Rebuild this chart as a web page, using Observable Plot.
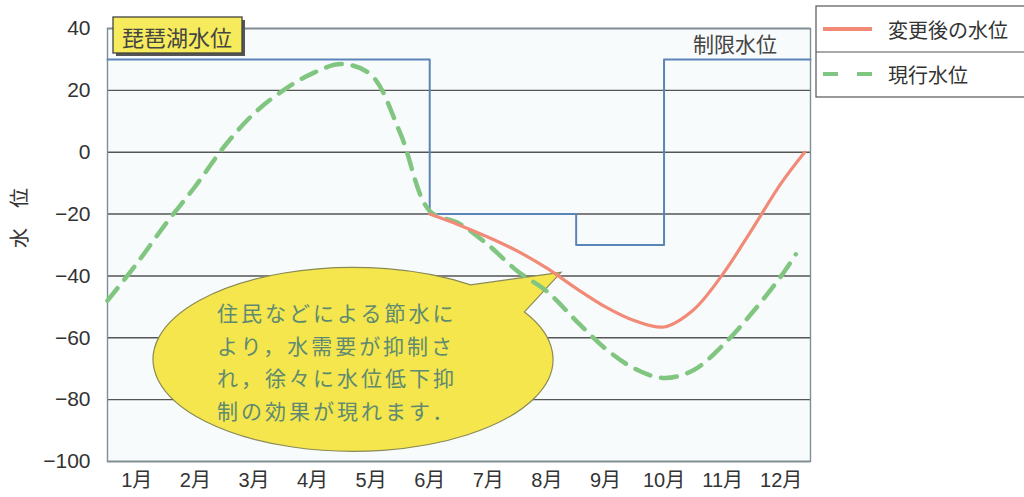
<!DOCTYPE html>
<html>
<head>
<meta charset="utf-8">
<script src="https://cdn.jsdelivr.net/npm/d3@7"></script>
<script src="https://cdn.jsdelivr.net/npm/@observablehq/plot@0.6"></script>
<style>
  body { margin: 0; background: #fff; }
</style>
</head>
<body>
<div id="chart"></div>
<script>
// Month labels along the x axis (positions are in months: 0 = 1 Jan, 12 = 31 Dec)
const monthLabels = ["1月","2月","3月","4月","5月","6月","7月","8月","9月","10月","11月","12月"];
const yTicks = [40, 20, 0, -20, -40, -60, -80, -100];

// 現行水位 (current operation), cm
const currentT     = [0, 0.5, 1, 1.5, 2, 2.5, 3, 3.5, 4, 4.5, 5, 5.5, 6, 6.5, 7, 7.5, 8, 8.5, 9, 9.5, 10, 10.5, 11, 11.5, 11.75];
const currentLevel = [-48, -36, -23, -11, 2, 12.5, 20, 25.5, 28.5, 25, 6, -19, -23, -30, -38.5, -45, -54.5, -63.5, -70, -73, -70.5, -62.5, -52, -40, -33];

// 変更後の水位 (revised operation), cm
const revisedT     = [5.5, 6, 6.5, 7, 7.5, 8, 8.5, 9, 9.5, 10, 10.5, 11, 11.5, 11.9];
const revisedLevel = [-20, -23.5, -27.5, -32, -37.5, -44, -50, -54.5, -56.5, -51, -39.5, -25, -10, 0];

// 制限水位 (limit level), step changes
const limitT     = [0, 5.5, 8, 9.5, 12];
const limitLevel = [30, -20, -30, 30, 30];

// Point on the revised curve the speech bubble points at
const calloutT = 7.75, calloutLevel = -39;

const current = currentT.map((t, i) => ({t, v: currentLevel[i]}));
const revised = revisedT.map((t, i) => ({t, v: revisedLevel[i]}));
const limit = limitT.map((t, i) => ({t, v: limitLevel[i]}));

const cjk = "'Noto Sans CJK JP', 'Noto Sans', sans-serif";

// Plot-area tint
function plotBackground(index, {x, y}) {
  const g = d3.create("svg:g");
  g.append("rect")
    .attr("x", x(0)).attr("y", y(40))
    .attr("width", x(12) - x(0)).attr("height", y(-100) - y(40))
    .attr("fill", "#f8fbfc");
  return g.node();
}

// Speech bubble with the explanation
function callout(index, {x, y}) {
  const g = d3.create("svg:g");
  const tip = [x(calloutT), y(calloutLevel)];
  const cx = tip[0] - 208, cy = tip[1] + 87, rx = 200, ry = 92;
  const a0 = -31 * Math.PI / 180, a1 = -54 * Math.PI / 180;
  const p0 = [cx + rx * Math.cos(a0), cy + ry * Math.sin(a0)];
  const p1 = [cx + rx * Math.cos(a1), cy + ry * Math.sin(a1)];
  g.append("path")
    .attr("d", `M${p0} A${rx},${ry} 0 1 1 ${p1} L${tip} Z`)
    .attr("fill", "#f4e64c")
    .attr("stroke", "#8a8a55")
    .attr("stroke-width", 1.2);
  const lines = ["住民などによる節水に", "より，水需要が抑制さ", "れ，徐々に水位低下抑", "制の効果が現れます．"];
  g.append("g")
    .attr("font-family", cjk)
    .attr("font-size", 21)
    .attr("letter-spacing", 3)
    .attr("text-anchor", "start")
    .attr("fill", "#5f8a72")
    .selectAll("text")
    .data(lines)
    .join("text")
    .attr("x", cx - 136)
    .attr("y", (d, i) => cy - 47 + i * 32.5)
    .attr("dominant-baseline", "central")
    .text(d => d);
  return g.node();
}

// Title box, limit label and legend
function annotations(index, {x, y}) {
  const g = d3.create("svg:g").attr("font-family", cjk).attr("text-anchor", "start");
  // 琵琶湖水位 box
  g.append("rect").attr("x", 116).attr("y", 20).attr("width", 129).attr("height", 36).attr("fill", "#555");
  g.append("rect").attr("x", 113).attr("y", 17).attr("width", 129).attr("height", 36)
    .attr("fill", "#f6eb5c").attr("stroke", "#444").attr("stroke-width", 1.3);
  g.append("text").attr("x", 177).attr("y", 36).attr("text-anchor", "middle")
    .attr("dominant-baseline", "central").attr("font-size", 22).attr("fill", "#444").text("琵琶湖水位");
  // 制限水位 label
  g.append("text").attr("x", x(12) - 117).attr("y", 43)
    .attr("dominant-baseline", "central").attr("font-size", 21).attr("fill", "#444").text("制限水位");
  // Legend
  const lx = 816;
  g.append("rect").attr("x", lx).attr("y", 6).attr("width", 230).attr("height", 91)
    .attr("fill", "#fff").attr("stroke", "#555").attr("stroke-width", 1.2);
  g.append("line").attr("x1", lx).attr("x2", 1024).attr("y1", 52).attr("y2", 52)
    .attr("stroke", "#555").attr("stroke-width", 1.2);
  g.append("line").attr("x1", lx + 7).attr("x2", lx + 56).attr("y1", 29).attr("y2", 29)
    .attr("stroke", "#f28a78").attr("stroke-width", 4);
  g.append("line").attr("x1", lx + 7).attr("x2", lx + 56).attr("y1", 74).attr("y2", 74)
    .attr("stroke", "#80c680").attr("stroke-width", 4).attr("stroke-dasharray", "15,19");
  g.append("text").attr("x", lx + 72).attr("y", 29).attr("dominant-baseline", "central")
    .attr("font-size", 20).attr("fill", "#333").text("変更後の水位");
  g.append("text").attr("x", lx + 72).attr("y", 74).attr("dominant-baseline", "central")
    .attr("font-size", 20).attr("fill", "#333").text("現行水位");
  return g.node();
}

const chart = Plot.plot({
  width: 1024,
  height: 497,
  marginLeft: 107,
  marginRight: 214,
  marginTop: 28,
  marginBottom: 36,
  style: {
    fontFamily: "'Liberation Sans', 'Noto Sans CJK JP', sans-serif",
    color: "#333",
    background: "#fff",
    overflow: "visible"
  },
  x: {domain: [0, 12]},
  y: {domain: [-100, 40]},
  marks: [
    plotBackground,
    Plot.gridY(yTicks, {stroke: "#555", strokeOpacity: 1, strokeWidth: 1.4}),
    Plot.frame({stroke: "#7f8f98", strokeWidth: 1.4}),
    Plot.axisY(yTicks, {tickSize: 0, tickPadding: 17, fontSize: 21, label: null}),
    Plot.axisX(monthLabels.map((d, i) => i + 0.5), {
      tickSize: 0, tickPadding: 11, fontSize: 20, label: null,
      tickFormat: d => monthLabels[Math.floor(d)]
    }),
    Plot.text(["水　位"], {frameAnchor: "left", dx: -87, dy: 3, rotate: -90, fontSize: 20, fontFamily: cjk, fill: "#333"}),
    callout,
    Plot.line(limit, {x: "t", y: "v", curve: "step-after", stroke: "#5b84b8", strokeWidth: 2}),
    Plot.line(current, {x: "t", y: "v", curve: "catmull-rom", stroke: "#80c680", strokeWidth: 4.5, strokeDasharray: "16,11"}),
    Plot.line(revised, {x: "t", y: "v", curve: "catmull-rom", stroke: "#f28a78", strokeWidth: 3.2}),
    annotations
  ]
});

document.getElementById("chart").appendChild(chart);
</script>
</body>
</html>
